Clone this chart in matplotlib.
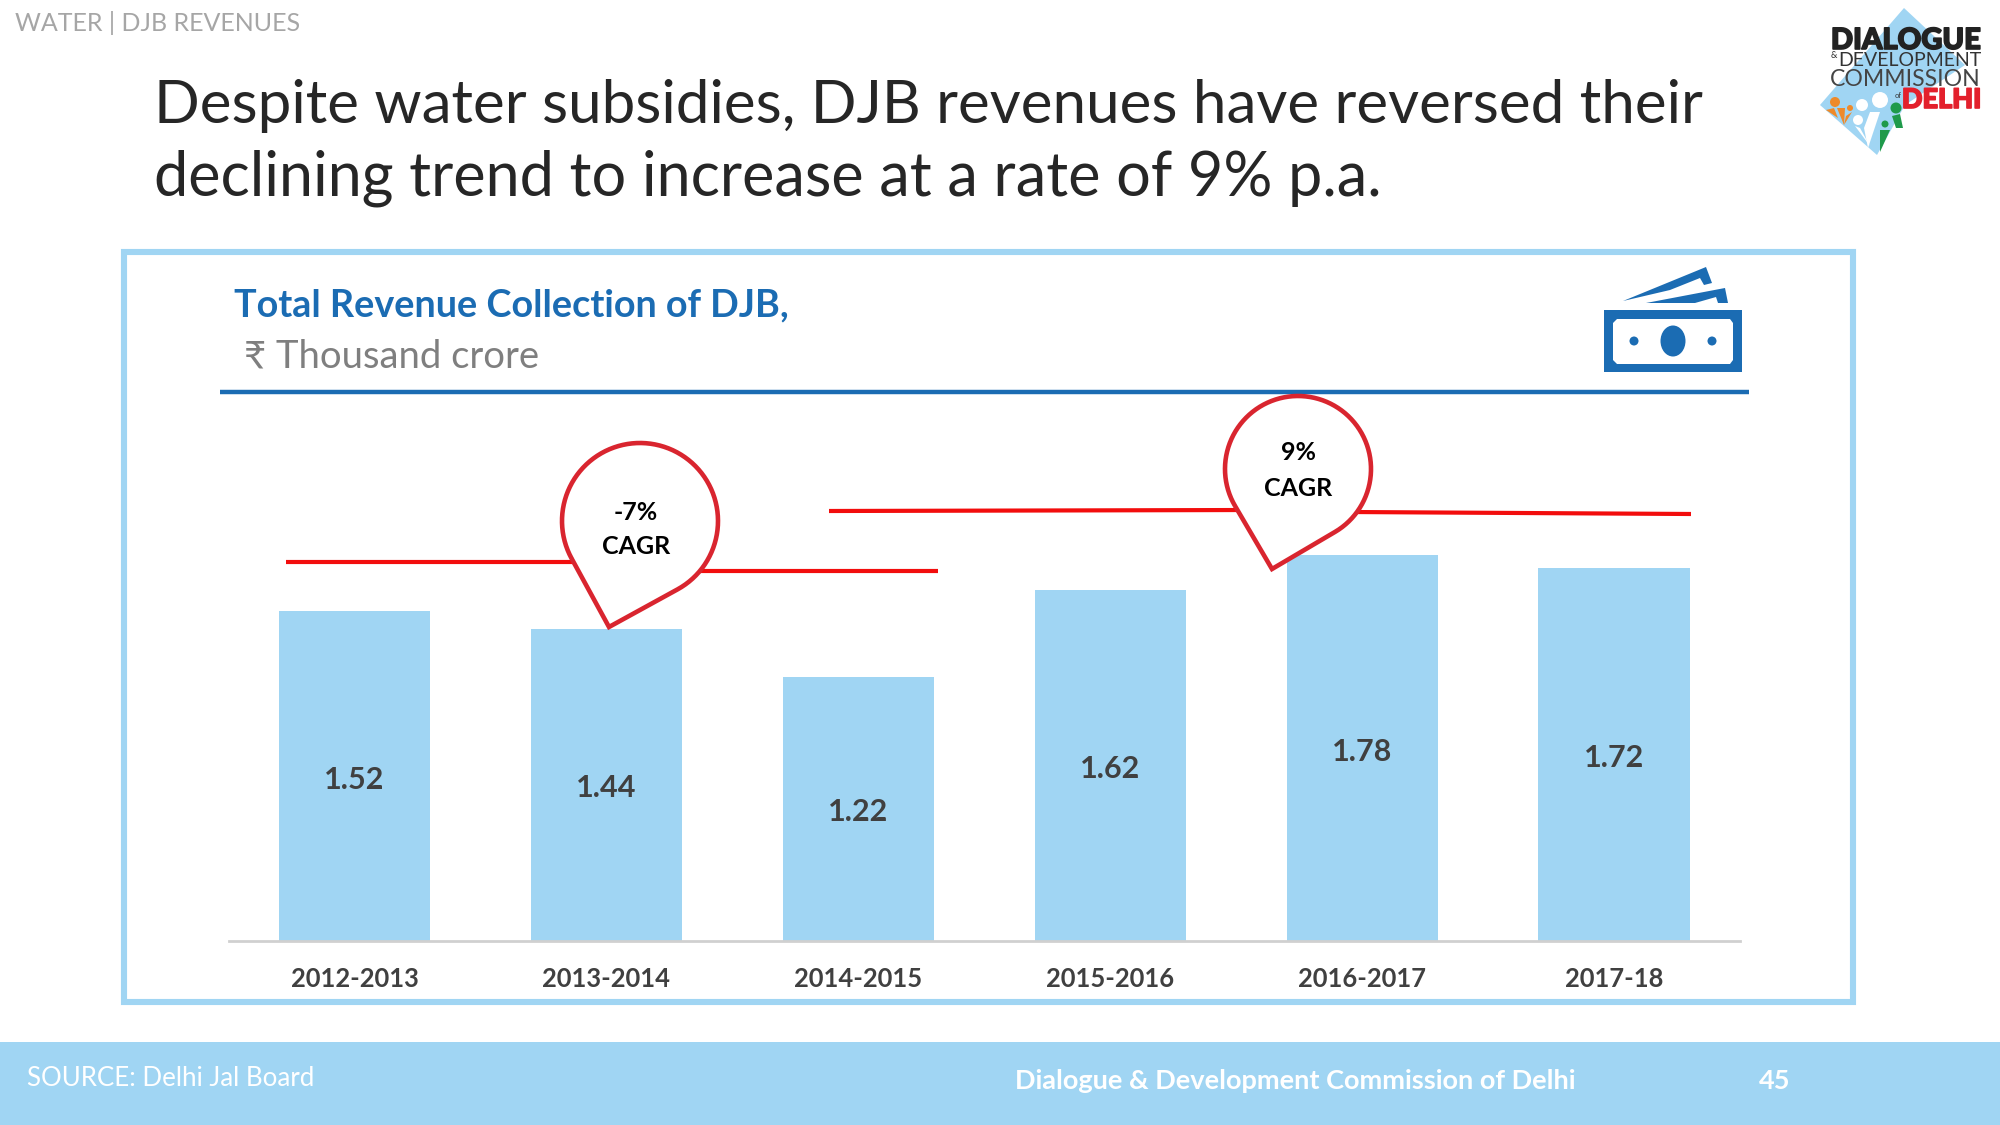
import matplotlib
matplotlib.use('Agg')
import matplotlib.pyplot as plt
import matplotlib.patheffects as pe
from matplotlib.patches import Rectangle, Polygon, Circle, Ellipse, PathPatch
from matplotlib.path import Path
import numpy as np

plt.rcParams['font.family'] = ['Lato', 'DejaVu Sans']

years = ['2012-2013', '2013-2014', '2014-2015', '2015-2016', '2016-2017', '2017-18']
revenue = [1.52, 1.44, 1.22, 1.62, 1.78, 1.72]

BAR_BLUE = '#a0d5f3'
DARK_BLUE = '#1b6cb3'
PIN_RED = '#d9252f'
LINE_RED = '#f20d0d'
TEXT = '#404040'

fig = plt.figure(figsize=(20, 11.25), dpi=100, facecolor='white')

# overlay in pixel coords for everything around the chart
bg = fig.add_axes([0, 0, 1, 1], zorder=0)
bg.set_xlim(0, 2000)
bg.set_ylim(1125, 0)
bg.axis('off')

top = fig.add_axes([0, 0, 1, 1], zorder=2)
top.set_xlim(0, 2000)
top.set_ylim(1125, 0)
top.axis('off')
top.patch.set_alpha(0)

# frame + footer
bg.add_patch(Rectangle((124, 252), 1729, 750, fill=False, ec=BAR_BLUE, lw=4.4))
bg.add_patch(Rectangle((0, 1042), 2000, 83, fc=BAR_BLUE, ec='none'))
bg.plot([220, 1749], [392, 392], color=DARK_BLUE, lw=3.2, solid_capstyle='butt')

# headings
bg.text(15, 23, 'WATER | DJB REVENUES', fontsize=18, color='#a6a6a6', va='center')
bg.text(154, 106, 'Despite water subsidies, DJB revenues have reversed their',
        fontsize=43.3, color='#262626', va='center')
bg.text(154, 178, 'declining trend to increase at a rate of 9% p.a.',
        fontsize=44, color='#262626', va='center')
bg.text(234, 305, 'Total Revenue Collection of DJB,', fontsize=27.2, color=DARK_BLUE,
        va='center', fontweight='bold')
bg.text(244, 356, '₹ Thousand crore', fontsize=27.5, color='#7f7f7f', va='center')
bg.text(27, 1079, 'SOURCE: Delhi Jal Board', fontsize=18.6, color='white', va='center')
bg.text(1015, 1081, 'Dialogue & Development Commission of Delhi', fontsize=19.5,
        color='white', va='center', fontweight='bold')
bg.text(1775, 1081, '45', fontsize=19.5, color='white', va='center', fontweight='bold', ha='center')

# bars
ax = fig.add_axes([228.6 / 2000, (1125 - 941) / 1125, 1511.4 / 2000, 433.6 / 1125], zorder=1)
ax.patch.set_alpha(0)
x = np.arange(len(years))
bars = ax.bar(x, revenue, width=0.6, color=BAR_BLUE)
labels = ax.bar_label(bars, fmt='%.2f', label_type='center', fontsize=22, fontweight='bold', color=TEXT)
for t in labels:
    t.xyann = (0, -2.5)
ax.set_xlim(-0.5, 5.5)
ax.set_ylim(0, 2)
ax.set_yticks([])
ax.set_xticks(x, years, fontsize=18.4, fontweight='bold', color=TEXT)
ax.tick_params(axis='x', length=0, pad=19)
for s in ['top', 'left', 'right']:
    ax.spines[s].set_visible(False)
ax.spines['bottom'].set_color('#d0d0d0')
ax.spines['bottom'].set_linewidth(2)


def pin(a, cx, cy, r, tx, ty):
    # teardrop: arc round the circle, closing at the tip
    ang = np.arctan2(ty - cy, tx - cx)
    d = np.hypot(tx - cx, ty - cy)
    off = np.arccos(r / d)
    th = np.linspace(ang + off, ang - off + 2 * np.pi, 80)
    pts = np.column_stack([cx + r * np.cos(th), cy + r * np.sin(th)])
    pts = np.vstack([pts, [tx, ty], pts[0]])
    a.add_patch(PathPatch(Path(pts, closed=False), fc='white', ec=PIN_RED, lw=3.3,
                          joinstyle='miter', zorder=3))


# CAGR trend lines and pins
for xs, ys in [([286, 575], [562, 562]), ([690, 938], [571, 571]),
               ([829, 1250], [511, 510]), ([1350, 1691], [512, 514])]:
    top.plot(xs, ys, color=LINE_RED, lw=3, solid_capstyle='butt', zorder=2)
pin(top, 640, 521, 78, 609, 627)
pin(top, 1298, 469, 73, 1272, 569)
for tx, ty, s in [(636, 512, '-7%'), (636, 547, 'CAGR'), (1298, 453, '9%'), (1298, 488, 'CAGR')]:
    top.text(tx, ty, s, fontsize=18, fontweight='bold', color='black', ha='center', va='center', zorder=4)

# banknote icon
bg.add_patch(Rectangle((1604, 310), 138, 62, fc=DARK_BLUE, ec='none'))
bg.add_patch(Polygon([(1617, 319), (1730, 319), (1733, 323), (1733, 360), (1730, 364),
                      (1617, 364), (1613, 360), (1613, 323)], fc='white', ec='none'))
bg.add_patch(Ellipse((1673, 341), 25, 31, fc=DARK_BLUE, ec='none'))
bg.add_patch(Circle((1634, 341), 4.5, fc=DARK_BLUE, ec='none'))
bg.add_patch(Circle((1712, 341), 4.5, fc=DARK_BLUE, ec='none'))
bg.add_patch(Polygon([(1623, 301), (1706, 267), (1712, 283), (1704, 285), (1700, 278), (1670, 290)],
                     fc=DARK_BLUE, ec='none'))
bg.add_patch(Polygon([(1646, 303), (1725, 288), (1728, 303), (1718, 303), (1716, 297), (1695, 303)],
                     fc=DARK_BLUE, ec='none'))

# logo
bg.add_patch(Polygon([(1904, 8), (1965, 65), (1905, 105), (1877, 155), (1820, 105)], fc=BAR_BLUE, ec='none'))
for cx, cy, r, c in [(1835, 102, 5, '#ee8a2a'), (1850, 108, 3, '#ee8a2a'),
                     (1862, 105, 6, 'white'), (1880, 100, 8, 'white'), (1858, 120, 5, 'white'),
                     (1896, 108, 5.5, '#1f9a4b'), (1885, 124, 3.5, '#1f9a4b')]:
    bg.add_patch(Circle((cx, cy), r, fc=c, ec='none'))
# little bodies under the heads
for pts, c in [([(1837, 108), (1845, 108), (1844, 125)], '#ee8a2a'),
               ([(1826, 110), (1834, 108), (1838, 118)], '#ee8a2a'),
               ([(1852, 112), (1846, 116), (1844, 125)], '#ee8a2a'),
               ([(1870, 112), (1880, 112), (1868, 148), (1864, 128)], 'white'),
               ([(1855, 126), (1860, 128), (1870, 146)], 'white'),
               ([(1880, 130), (1890, 130), (1880, 152)], '#1f9a4b'),
               ([(1892, 116), (1900, 114), (1903, 128), (1896, 128)], '#1f9a4b')]:
    bg.add_patch(Polygon(pts, fc=c, ec='none'))
thick = [pe.withStroke(linewidth=1.2, foreground='#222222')]
bg.text(1981, 41, 'DIALOGUE', fontsize=21, fontweight='black', color='#222222', ha='right', va='center',
        path_effects=thick)
bg.text(1981, 61, 'DEVELOPMENT', fontsize=14, color='#333333', ha='right', va='center')
bg.text(1834, 56, '&', fontsize=6.5, color='#333333', ha='center', va='center')
bg.text(1981, 79, 'COMMISSION', fontsize=16.6, color='#444444', ha='right', va='center')
bg.text(1981, 100, 'DELHI', fontsize=19.5, fontweight='black', color='#e3202c', ha='right', va='center',
        path_effects=[pe.withStroke(linewidth=1.2, foreground='#e3202c')])
bg.text(1898, 95, 'of', fontsize=5.5, color='#333333', ha='center', va='center')

fig.savefig('out.png', dpi=100)
